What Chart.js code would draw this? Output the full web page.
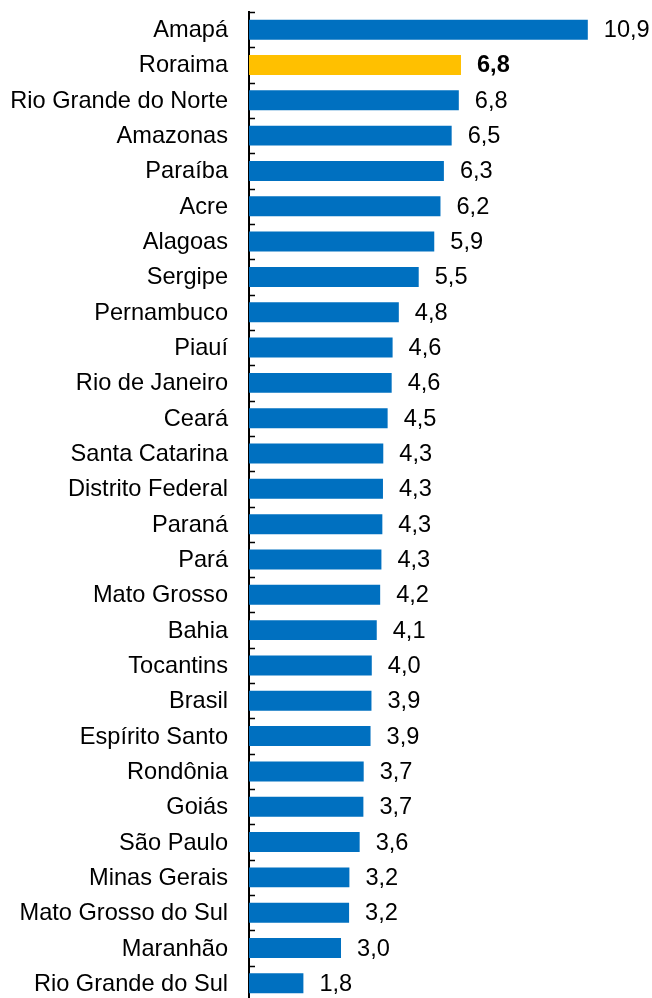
<!DOCTYPE html>
<html>
<head>
<meta charset="utf-8">
<script src="https://cdn.jsdelivr.net/npm/chart.js@4/dist/chart.umd.min.js"></script>
<style>
  html, body { margin: 0; padding: 0; background: #fff; overflow: hidden; }
  #wrap { width: 652px; height: 998px; overflow: hidden; }
  canvas { display: block; }
</style>
</head>
<body>
<div id="wrap"><canvas id="c" width="652" height="1003"></canvas></div>
<script>
const categories = ["Amapá","Roraima","Rio Grande do Norte","Amazonas","Paraíba","Acre","Alagoas","Sergipe","Pernambuco","Piauí","Rio de Janeiro","Ceará","Santa Catarina","Distrito Federal","Paraná","Pará","Mato Grosso","Bahia","Tocantins","Brasil","Espírito Santo","Rondônia","Goiás","São Paulo","Minas Gerais","Mato Grosso do Sul","Maranhão","Rio Grande do Sul"];
const values = [10.9,6.82,6.75,6.52,6.27,6.16,5.96,5.46,4.82,4.62,4.59,4.46,4.32,4.31,4.29,4.26,4.22,4.11,3.95,3.94,3.91,3.69,3.68,3.56,3.23,3.22,2.96,1.75];
const valueLabels = ["10,9","6,8","6,8","6,5","6,3","6,2","5,9","5,5","4,8","4,6","4,6","4,5","4,3","4,3","4,3","4,3","4,2","4,1","4,0","3,9","3,9","3,7","3,7","3,6","3,2","3,2","3,0","1,8"];
const highlight = "Roraima";

const FONT = "'Liberation Sans', Arial, sans-serif";
const FSIZE = 23.6;
const barColors = categories.map(c => c === highlight ? "#FFC000" : "#0070C0");

const innerTicks = {
  id: 'innerTicks',
  afterDatasetsDraw(chart) {
    const ctx = chart.ctx, y = chart.scales.y, x0 = chart.chartArea.left;
    ctx.save();
    ctx.strokeStyle = '#000';
    ctx.lineWidth = 1.5;
    for (let i = 0; i <= categories.length; i++) {
      const yy = Math.round(y.getPixelForValue(i - 0.5)) + 0.5;
      ctx.beginPath();
      ctx.moveTo(x0, yy);
      ctx.lineTo(x0 + 6, yy);
      ctx.stroke();
    }
    const meta = chart.getDatasetMeta(0);
    ctx.fillStyle = '#000';
    ctx.textBaseline = 'middle';
    ctx.textAlign = 'left';
    meta.data.forEach((bar, i) => {
      const bold = categories[i] === highlight;
      ctx.font = (bold ? 'bold ' : '') + FSIZE + 'px ' + FONT;
      ctx.fillText(valueLabels[i], bar.x + 16, bar.y + 1);
    });
    ctx.restore();
  }
};

new Chart(document.getElementById('c'), {
  type: 'bar',
  data: {
    labels: categories,
    datasets: [{
      data: values,
      backgroundColor: barColors,
      borderWidth: 0,
      categoryPercentage: 1,
      barPercentage: 0.566
    }]
  },
  options: {
    indexAxis: 'y',
    responsive: false,
    animation: false,
    devicePixelRatio: 1,
    layout: { padding: { top: 12, right: 30, bottom: 2, left: 0 } },
    plugins: { legend: { display: false }, tooltip: { enabled: false } },
    scales: {
      x: { display: false, min: 0, max: 12 },
      y: {
        afterFit(scale) {
          scale.width = 249;
          scale.paddingTop = 0; scale.paddingBottom = 0;
          scale.paddingLeft = 0; scale.paddingRight = 0;
        },
        grid: { display: false, drawTicks: false },
        border: { display: true, color: '#000', width: 2 },
        ticks: { color: '#000', padding: 21, labelOffset: 1, font: { family: FONT, size: FSIZE } }
      }
    }
  },
  plugins: [innerTicks]
});
</script>
</body>
</html>
